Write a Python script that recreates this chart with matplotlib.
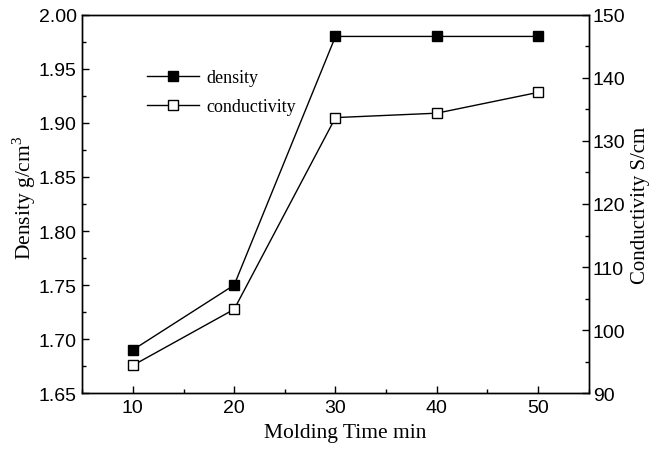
import matplotlib
matplotlib.use("Agg")
import matplotlib.pyplot as plt
from matplotlib.ticker import MultipleLocator, FormatStrFormatter

time_min = [10, 20, 30, 40, 50]
density = [1.69, 1.75, 1.98, 1.98, 1.98]
conductivity = [94.4, 103.3, 133.7, 134.4, 137.7]

serif = "Liberation Serif"
sans = "Liberation Sans"
plt.rcParams["mathtext.fontset"] = "custom"
plt.rcParams["mathtext.rm"] = serif

fig = plt.figure(figsize=(6.63, 4.52), dpi=100)
ax = fig.add_axes([0.124, 0.128, 0.764, 0.837])
ax2 = ax.twinx()

l1, = ax.plot(time_min, density, "-s", color="black", lw=1.0,
              ms=6.5, mfc="black", mec="black", label="density")
l2, = ax2.plot(time_min, conductivity, "-s", color="black", lw=1.0,
               ms=6.5, mfc="white", mec="black", mew=1.0, label="conductivity")

ax.set_xlim(5, 55)
ax.set_ylim(1.65, 2.00)
ax2.set_ylim(90, 150)
ax.set_xticks(time_min)
ax.xaxis.set_minor_locator(MultipleLocator(5))
ax.yaxis.set_major_locator(MultipleLocator(0.05))
ax.yaxis.set_minor_locator(MultipleLocator(0.025))
ax.yaxis.set_major_formatter(FormatStrFormatter("%.2f"))
ax2.yaxis.set_major_locator(MultipleLocator(10))
ax2.yaxis.set_minor_locator(MultipleLocator(5))

ax.tick_params(axis="both", which="both", direction="in", top=False, right=False)
ax.tick_params(which="major", length=5, width=1, pad=4)
ax.tick_params(which="minor", length=3, width=1)
ax2.tick_params(axis="y", which="both", direction="in")
ax2.tick_params(which="major", length=5, width=1, pad=3)
ax2.tick_params(which="minor", length=3, width=1)

for lab in ax.get_xticklabels() + ax.get_yticklabels() + ax2.get_yticklabels():
    lab.set_fontfamily(sans)
    lab.set_fontsize(14)

for a in (ax, ax2):
    for s in a.spines.values():
        s.set_linewidth(1.0)

ax.set_xlabel("Molding Time min", fontfamily=serif, fontsize=15.5)
ax.xaxis.set_label_coords(0.52, -0.08)
ax.set_ylabel("Density g/cm$^3$", fontfamily=serif, fontsize=15.5)
ax.yaxis.set_label_coords(-0.087, 0.52)
ax2.set_ylabel("Conductivity S/cm", fontfamily=serif, fontsize=15, labelpad=4)

leg = ax2.legend([l1, l2], ["density", "conductivity"], loc="upper left",
                 bbox_to_anchor=(0.113, 0.876), frameon=False, numpoints=1,
                 handlelength=2.9, handletextpad=0.4, labelspacing=0.68,
                 borderaxespad=0, prop={"family": serif, "size": 13})

fig.savefig("out.png", dpi=100)
